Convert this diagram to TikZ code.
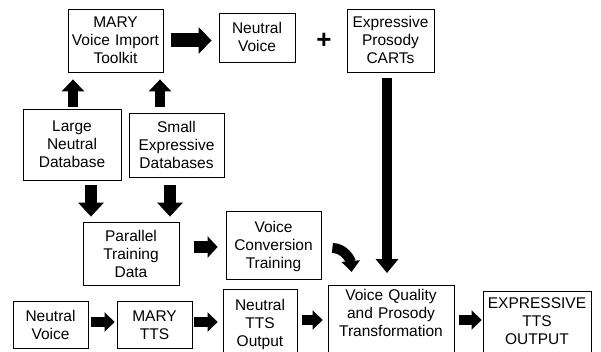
\documentclass[tikz,border=0pt]{standalone}
\usepackage{fontspec}
\setmainfont{Liberation Sans}
\usetikzlibrary{arrows.meta}
\begin{document}
\begin{tikzpicture}[x=1pt,y=-1pt,
  box/.style={draw=black, line width=0.8pt, inner xsep=0pt, inner ysep=0pt,
    align=center, font=\fontsize{15.5}{18}\selectfont},
  three/.style={box, text height=12pt, text depth=37pt},
  two/.style={box, text height=12pt, text depth=19pt},
  open/.style={box, anchor=north, text depth=80pt},
  blk/.style n args={3}{line width=#1, -{Triangle[width=#2,length=#3]}},
  sign/.style={inner sep=0pt, font=\fontsize{26}{26}\selectfont\bfseries}
]
\useasboundingbox (0,0) rectangle (601,352);
\clip (0,0) rectangle (601,352);

% boxes
\node[three, text width=95pt, minimum height=63pt] (mary) at (115.5,40.5) {MARY\\Voice Import\\Toolkit};
\node[two, text width=76pt, minimum height=49pt] (nv1) at (257,37.5) {Neutral\\Voice};
\node[sign] (plus) at (324,41) {+};
\node[three, text width=87pt, minimum height=63pt] (carts) at (390.5,40.5) {Expressive\\Prosody\\CARTs};
\node[three, text width=98pt, minimum height=71pt] (lnd) at (72,144.5) {Large\\Neutral\\Database};
\node[three, text width=95pt, minimum height=64pt] (sed) at (176.5,145) {Small\\Expressive\\Databases};
\node[three, text width=96pt, minimum height=63pt] (ptd) at (131,253.5) {Parallel\\Training\\Data};
\node[three, text width=95pt, minimum height=68pt] (vct) at (273.5,245) {Voice\\Conversion\\Training};
\node[two, text width=75pt, minimum height=47pt] (nv2) at (50.5,324.5) {Neutral\\Voice};
\node[two, text width=75pt, minimum height=47pt] (mtts) at (154.5,324.5) {MARY\\TTS};
\node[open, text width=74pt, text height=21.5pt] (ntts) at (260,289) {Neutral\\TTS\\Output};
\node[open, text width=126pt, text height=15.5pt] (vqt) at (391,285) {Voice Quality\\and Prosody\\Transformation};
\node[open, text width=108pt, text height=17.5pt] (etts) at (537,291) {EXPRESSIVE\\TTS\\OUTPUT};

% rows of the bottom arrows
\coordinate (rowa) at (0,322);
\coordinate (rowb) at (0,320);

% block arrows
\draw[blk={14pt}{26pt}{13pt}, shorten <=8pt, shorten >=7pt] (mary.east) -- (mary.east -| nv1.west);
\draw[blk={10pt}{22pt}{14pt}, shorten <=6pt, shorten >=12pt] ([xshift=-3.5pt]carts.south) -- ([xshift=-3.5pt]carts.south |- vqt.north);
\draw[blk={10pt}{22pt}{12pt}, shorten <=2pt, shorten >=7pt] ([xshift=1pt]lnd.north) -- ([xshift=1pt]lnd.north |- mary.south);
\draw[blk={10pt}{22pt}{12pt}, shorten <=6pt, shorten >=7pt] ([xshift=-16.5pt]sed.north) -- ([xshift=-16.5pt]sed.north |- mary.south);
\draw[blk={12pt}{25pt}{14pt}, shorten <=5pt, shorten >=5pt] ([xshift=19pt]lnd.south) -- ([xshift=19pt]lnd.south |- ptd.north);
\draw[blk={12pt}{25pt}{14pt}, shorten <=8pt, shorten >=5pt] ([xshift=-6.5pt]sed.south) -- ([xshift=-6.5pt]sed.south |- ptd.north);
\draw[blk={11pt}{21pt}{10pt}, shorten <=15pt, shorten >=8pt] ([yshift=-2pt]vct.west -| ptd.east) -- ([yshift=-2pt]vct.west);
\draw[line width=10pt, -{Triangle[width=18pt,length=11pt]}] ([xshift=11pt,yshift=-3pt]vct.east) to[out=0,in=95] ([xshift=24pt,yshift=13pt]vqt.north west);
\draw[blk={10pt}{19pt}{10pt}, shorten <=3pt, shorten >=2pt] (nv2.east |- rowa) -- (mtts.west |- rowa);
\draw[blk={10pt}{19pt}{10pt}, shorten <=2pt, shorten >=5pt] (mtts.east |- rowa) -- (ntts.west |- rowa);
\draw[blk={10pt}{19pt}{10pt}, shorten <=5pt, shorten >=5pt] (ntts.east |- rowb) -- (vqt.west |- rowb);
\draw[blk={10pt}{19pt}{10pt}, shorten <=5pt, shorten >=1pt] (vqt.east |- rowb) -- (etts.west |- rowb);
\end{tikzpicture}
\end{document}
